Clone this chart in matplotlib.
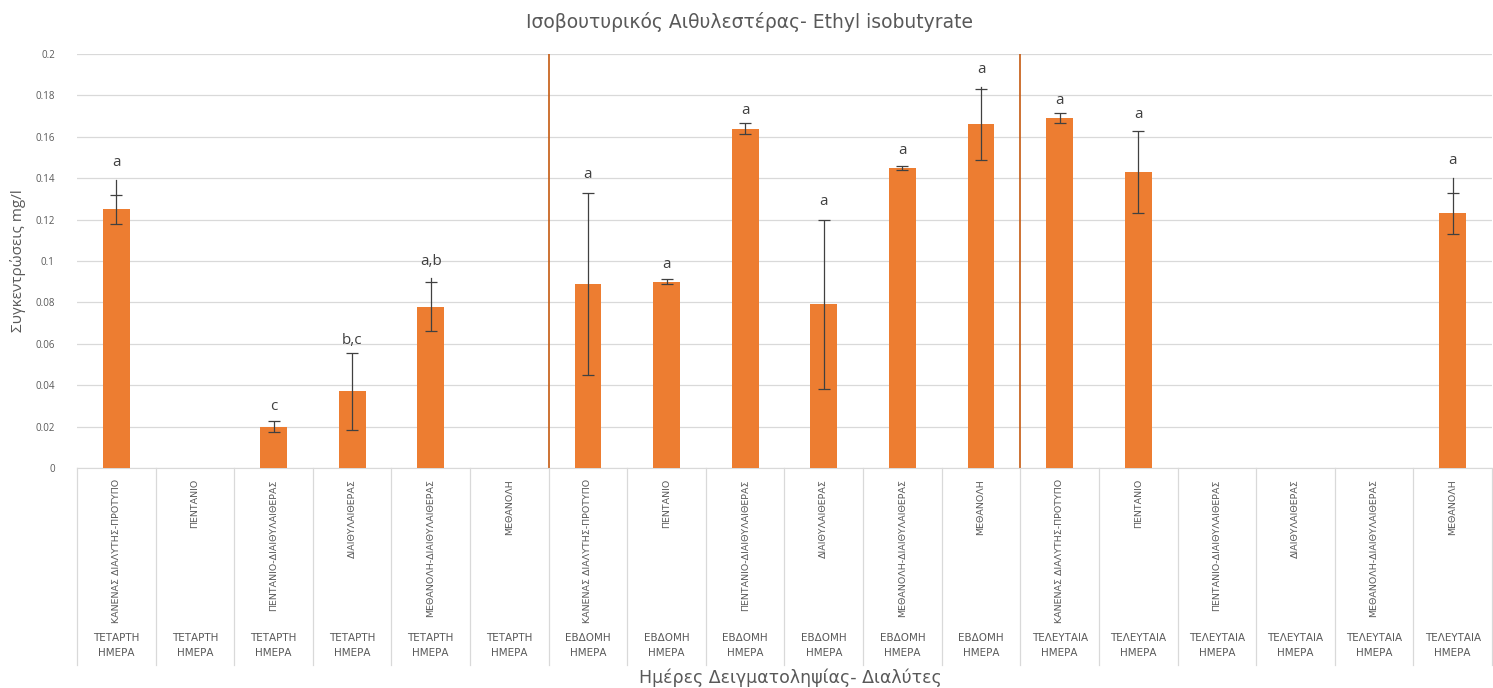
import matplotlib
matplotlib.use("Agg")
import matplotlib.pyplot as plt
import matplotlib.transforms as mtransforms
from matplotlib import font_manager

solvents = ["ΚΑΝΕΝΑΣ ΔΙΑΛΥΤΗΣ-ΠΡΟΤΥΠΟ", "ΠΕΝΤΑΝΙΟ", "ΠΕΝΤΑΝΙΟ-ΔΙΑΙΘΥΛΑΙΘΕΡΑΣ",
            "ΔΙΑΙΘΥΛΑΙΘΕΡΑΣ", "ΜΕΘΑΝΟΛΗ-ΔΙΑΙΘΥΛΑΙΘΕΡΑΣ", "ΜΕΘΑΝΟΛΗ"]
days = ["ΤΕΤΑΡΤΗ\nΗΜΕΡΑ", "ΕΒΔΟΜΗ\nΗΜΕΡΑ", "ΤΕΛΕΥΤΑΙΑ\nΗΜΕΡΑ"]
categories = [s for d in days for s in solvents]
day_labels = [d for d in days for s in solvents]

values = [0.125, 0, 0.020, 0.037, 0.078, 0,
          0.089, 0.090, 0.164, 0.079, 0.145, 0.166,
          0.169, 0.143, 0, 0, 0, 0.123]
errors = [0.007, 0, 0.0025, 0.0185, 0.012, 0,
          0.044, 0.0013, 0.0025, 0.041, 0.001, 0.017,
          0.0025, 0.020, 0, 0, 0, 0.010]
whisker_top = [0.139, None, None, None, 0.092, None,
               None, None, None, None, None, 0.184,
               None, None, None, None, None, 0.140]
letters = ["a", "", "c", "b,c", "a,b", "",
           "a", "a", "a", "a", "a", "a",
           "a", "a", "", "", "", "a"]
letter_y = [0.144, None, 0.026, 0.058, 0.096, None,
            0.138, 0.0945, 0.169, 0.125, 0.150, 0.189,
            0.174, 0.167, None, None, None, 0.145]

avail = {f.name for f in font_manager.fontManager.ttflist}
narrow = "Liberation Sans Narrow" if "Liberation Sans Narrow" in avail else "DejaVu Sans"

plt.rcParams["font.family"] = ["Open Sans", "DejaVu Sans"]

fig = plt.figure(figsize=(14.93, 6.88), dpi=100)
ax = fig.add_axes([77 / 1493, 1 - 468 / 688, (1492 - 77) / 1493, (468 - 54) / 688])

x = list(range(len(categories)))
bar_color = "#ED7D31"
ax.bar(x, values, width=0.34, color=bar_color, zorder=3)
ex = [i for i in x if errors[i] > 0]
ax.errorbar(ex, [values[i] for i in ex], yerr=[errors[i] for i in ex], fmt="none",
            ecolor="#404040", elinewidth=0.9, capsize=4, capthick=0.9, zorder=4)
for i in x:
    if whisker_top[i] is not None:
        ax.plot([i, i], [values[i] + errors[i], whisker_top[i]], color="#404040",
                lw=0.9, zorder=4)
    if letters[i]:
        ax.text(i, letter_y[i], letters[i], ha="center", va="bottom", fontsize=11,
                color="#404040", zorder=5)

ax.set_ylim(0, 0.2)
ax.set_xlim(-0.5, len(categories) - 0.5)
ax.set_yticks([0, 0.02, 0.04, 0.06, 0.08, 0.1, 0.12, 0.14, 0.16, 0.18, 0.2])
ax.set_yticklabels(["0", "0.02", "0.04", "0.06", "0.08", "0.1", "0.12", "0.14",
                    "0.16", "0.18", "0.2"])
ax.tick_params(axis="y", length=0, labelsize=7, labelcolor="#595959", pad=16)
ax.grid(axis="y", color="#D9D9D9", lw=0.9, zorder=0)
for s in ["left", "right", "top"]:
    ax.spines[s].set_visible(False)
ax.spines["bottom"].set_color("#D9D9D9")

ax.set_xticks(x)
ax.set_xticklabels(categories, rotation=90, va="top", ha="center", fontsize=6.8,
                   color="#595959", family=[narrow, "DejaVu Sans"])
ax.tick_params(axis="x", length=0, pad=8)

trans = mtransforms.blended_transform_factory(ax.transData, ax.transAxes)
for b in [i - 0.5 for i in range(len(categories) + 1)]:
    ax.plot([b, b], [0, -0.475], color="#D9D9D9", lw=0.9, transform=trans, clip_on=False)
for i in x:
    ax.text(i, -0.428, day_labels[i], transform=trans, ha="center", va="center",
            fontsize=7.5, color="#595959", linespacing=1.6, family=[narrow, "DejaVu Sans"])

for b in [5.5, 11.5]:
    ax.plot([b, b], [0, 0.2], color="#C55A11", lw=1.2, zorder=2)

fig.text(750 / 1493, 1 - 22 / 688, "Ισοβουτυρικός Αιθυλεστέρας- Ethyl isobutyrate",
         ha="center", va="center", fontsize=13.5, color="#595959", family="DejaVu Sans")
fig.text(790 / 1493, 1 - 678 / 688, "Ημέρες Δειγματοληψίας- Διαλύτες",
         ha="center", va="center", fontsize=12.5, color="#595959", family="DejaVu Sans")
fig.text(18 / 1493, 1 - 261 / 688, "Συγκεντρώσεις mg/l", rotation=90,
         ha="center", va="center", fontsize=11, color="#595959")

fig.savefig("out.png", dpi=100, facecolor="white")
